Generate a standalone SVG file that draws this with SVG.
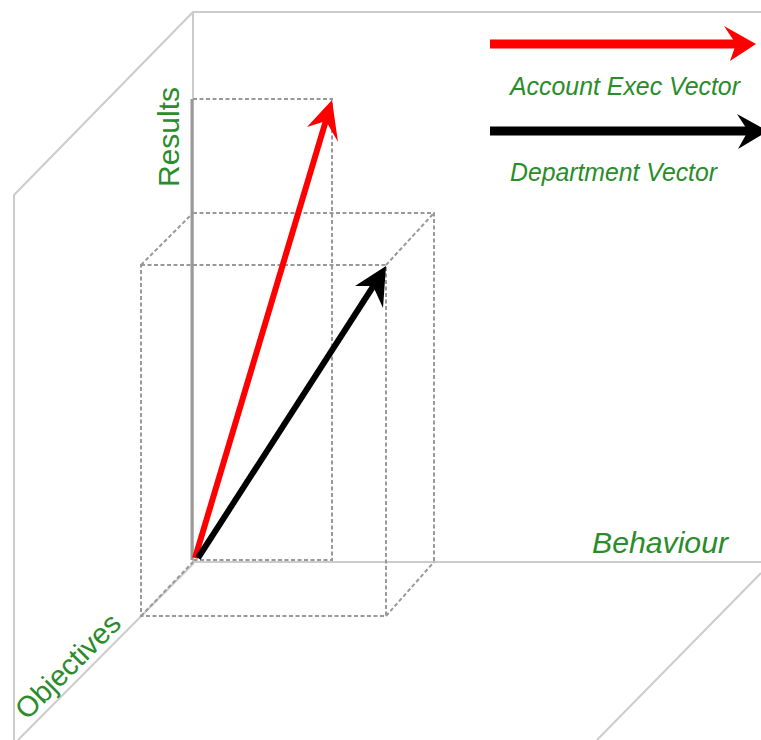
<svg xmlns="http://www.w3.org/2000/svg" width="761" height="740" viewBox="0 0 761 740">
  <style>
    .frame { stroke: #cccccc; stroke-width: 2; fill: none; }
    .axis { stroke: #999999; stroke-width: 3; fill: none; }
    .guide { stroke: #999999; stroke-width: 2; fill: none; stroke-dasharray: 4 2.5; }
    .label { font-family: "Liberation Sans", Arial, sans-serif; fill: #2a8c2a; }
    .ital { font-style: italic; }
  </style>
  <rect width="761" height="740" fill="#ffffff"/>

  <!-- room walls and floor -->
  <g id="frame">
    <polyline class="frame" points="761,12 193,12 193,562 761,562"/>
    <polyline class="frame" points="193,12 14,195 14,740"/>
    <line class="frame" x1="194" y1="563" x2="18" y2="740" stroke-width="1.6"/>
    <line class="frame" x1="761" y1="573" x2="597" y2="740" stroke-width="1.6"/>
    <line class="axis" x1="192" y1="99" x2="192" y2="560"/>
  </g>

  <!-- projection guides -->
  <g id="guides">
    <!-- box for the account exec vector -->
    <polyline class="guide" points="193,99 332,99 332,560 193,560"/>
    <!-- cube for the department vector -->
    <polyline class="guide" points="193,213 434,213 434,562"/>
    <rect class="guide" x="141" y="265" width="245" height="351"/>
    <line class="guide" x1="141" y1="265" x2="193" y2="213"/>
    <line class="guide" x1="386" y1="265" x2="434" y2="213"/>
    <line class="guide" x1="141" y1="616" x2="193" y2="562"/>
    <line class="guide" x1="386" y1="616" x2="434" y2="562"/>
  </g>

  <!-- vectors -->
  <g id="connectors">
    <g id="vec-account-exec">
      <line x1="195" y1="558" x2="327" y2="117" stroke="#ff0000" stroke-width="6"/>
      <polygon points="332,100 338,142 326,121 307,127" fill="#ff0000"/>
    </g>
    <g id="vec-department">
      <line x1="198" y1="558" x2="376" y2="282" stroke="#000000" stroke-width="6"/>
      <polygon points="386,266 383,308 373,286 355,286" fill="#000000"/>
    </g>
  </g>

  <!-- axis labels -->
  <g id="label-results">
    <text class="label" font-size="30" transform="translate(179,187) rotate(-90)">Results</text>
  </g>
  <g id="label-behaviour">
    <text class="label ital" font-size="30" x="592" y="553" textLength="136" lengthAdjust="spacingAndGlyphs">Behaviour</text>
  </g>
  <g id="label-objectives">
    <text class="label" font-size="29" transform="translate(27,721) rotate(-45)">Objectives</text>
  </g>

  <!-- legend -->
  <g id="legend-account-exec">
    <line x1="490" y1="44" x2="740" y2="44" stroke="#ff0000" stroke-width="9"/>
    <polygon points="756,44 730,61 736,44 724,26" fill="#ff0000"/>
    <text class="label ital" font-size="25" x="510" y="95" textLength="230" lengthAdjust="spacingAndGlyphs">Account Exec Vector</text>
  </g>
  <g id="legend-department">
    <line x1="490" y1="131" x2="752" y2="131" stroke="#000000" stroke-width="9"/>
    <polygon points="768,131 738,149 748,131 737,114" fill="#000000"/>
    <text class="label ital" font-size="25" x="510" y="181" textLength="207" lengthAdjust="spacingAndGlyphs">Department Vector</text>
  </g>
</svg>
